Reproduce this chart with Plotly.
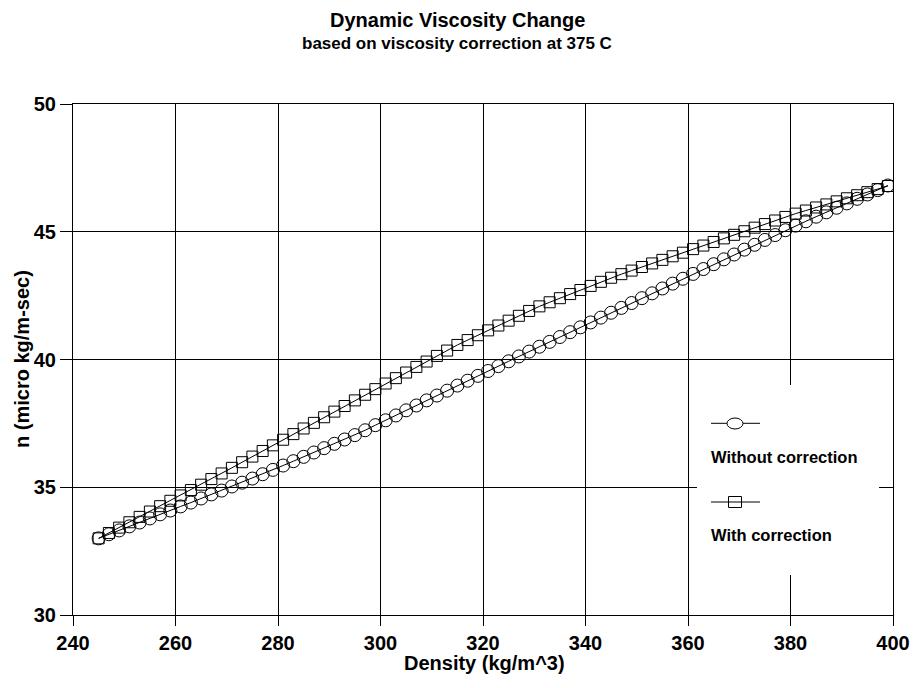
import plotly.graph_objects as go

# ---------------- data ----------------
density = [245, 247, 249, 251, 253, 255, 257, 259, 261, 263, 265, 267, 269, 271, 273, 275,
           277, 279, 281, 283, 285, 287, 289, 291, 293, 295, 297, 299, 301, 303, 305, 307,
           309, 311, 313, 315, 317, 319, 321, 323, 325, 327, 329, 331, 333, 335, 337, 339,
           341, 343, 345, 347, 349, 351, 353, 355, 357, 359, 361, 363, 365, 367, 369, 371,
           373, 375, 377, 379, 381, 383, 385, 387, 389, 391, 393, 395, 397, 399]

visc_without = [33.00, 33.16, 33.31, 33.47, 33.62, 33.78, 33.94, 34.09, 34.25, 34.40, 34.56, 34.72,
                34.87, 35.03, 35.18, 35.34, 35.51, 35.68, 35.85, 36.02, 36.19, 36.36, 36.53, 36.70,
                36.87, 37.04, 37.23, 37.43, 37.62, 37.81, 38.01, 38.20, 38.40, 38.59, 38.78, 38.98,
                39.17, 39.36, 39.55, 39.74, 39.93, 40.12, 40.31, 40.50, 40.69, 40.88, 41.07, 41.26,
                41.45, 41.64, 41.83, 42.02, 42.21, 42.40, 42.59, 42.78, 42.97, 43.16, 43.35, 43.54,
                43.73, 43.92, 44.11, 44.30, 44.49, 44.68, 44.87, 45.06, 45.24, 45.41, 45.59, 45.76,
                45.94, 46.11, 46.29, 46.46, 46.63, 46.81]

visc_with = [33.00, 33.21, 33.42, 33.63, 33.84, 34.05, 34.26, 34.47, 34.68, 34.89, 35.10, 35.32,
             35.54, 35.76, 35.98, 36.20, 36.42, 36.64, 36.86, 37.08, 37.30, 37.52, 37.74, 37.96,
             38.18, 38.40, 38.62, 38.84, 39.06, 39.27, 39.49, 39.71, 39.92, 40.14, 40.35, 40.57,
             40.76, 40.95, 41.14, 41.33, 41.52, 41.71, 41.90, 42.08, 42.24, 42.40, 42.56, 42.72,
             42.88, 43.04, 43.20, 43.34, 43.48, 43.62, 43.76, 43.90, 44.04, 44.18, 44.32, 44.46,
             44.60, 44.74, 44.88, 45.02, 45.16, 45.30, 45.44, 45.58, 45.71, 45.83, 45.95, 46.07,
             46.19, 46.31, 46.43, 46.55, 46.67, 46.79]

x_ticks = [240, 260, 280, 300, 320, 340, 360, 380, 400]
y_ticks = [30, 35, 40, 45, 50]
series_names = ["Without correction", "With correction"]

FONT = "Liberation Sans, Arial, sans-serif"

# ---------------- layout geometry (pixels) ----------------
W, H = 914, 688
ML, MR, MT, MB = 73, 21, 104, 73
PW, PH = W - ML - MR, H - MT - MB


def px(xp):
    return (xp - ML) / PW


def py(yp):
    return (H - MB - yp) / PH


fig = go.Figure()

fig.add_trace(go.Scatter(
    x=density, y=visc_without, name=series_names[0], mode="lines+markers",
    line=dict(color="black", width=1),
    marker=dict(symbol="circle-open", size=13, color="black", line=dict(width=1)),
    showlegend=False,
))
fig.add_trace(go.Scatter(
    x=density, y=visc_with, name=series_names[1], mode="lines+markers",
    line=dict(color="black", width=1),
    marker=dict(symbol="square-open", size=11, color="black", line=dict(width=1)),
    showlegend=False,
))

shapes = []
# legend background (hides grid lines)
shapes.append(dict(type="rect", xref="paper", yref="paper",
                   x0=px(697), x1=px(879), y0=py(575), y1=py(385),
                   fillcolor="white", line=dict(width=0), layer="above"))
# legend sample 1: line + ellipse
shapes.append(dict(type="line", xref="paper", yref="paper",
                   x0=px(711), x1=px(760), y0=py(423.3), y1=py(423.3),
                   line=dict(color="black", width=1), layer="above"))
shapes.append(dict(type="circle", xref="paper", yref="paper",
                   x0=px(727), x1=px(743), y0=py(429), y1=py(418),
                   fillcolor="white", line=dict(color="black", width=1), layer="above"))
# legend sample 2: line + square
shapes.append(dict(type="line", xref="paper", yref="paper",
                   x0=px(711), x1=px(760), y0=py(502), y1=py(502),
                   line=dict(color="black", width=1), layer="above"))
shapes.append(dict(type="rect", xref="paper", yref="paper",
                   x0=px(728.5), x1=px(741.5), y0=py(507.5), y1=py(496.5),
                   fillcolor="rgba(0,0,0,0)", line=dict(color="black", width=1), layer="above"))

annotations = [
    dict(text="<b>Dynamic Viscosity Change</b>", xref="paper", yref="paper",
         x=px(457), y=py(20), xanchor="center", yanchor="middle", showarrow=False,
         font=dict(family=FONT, size=20, color="black")),
    dict(text="<b>based on viscosity correction at 375 C</b>", xref="paper", yref="paper",
         x=px(457), y=py(43), xanchor="center", yanchor="middle", showarrow=False,
         font=dict(family=FONT, size=17, color="black")),
    dict(text="<b>" + series_names[0] + "</b>", xref="paper", yref="paper",
         x=px(709), y=py(457), xanchor="left", yanchor="middle", showarrow=False,
         font=dict(family=FONT, size=16.5, color="black")),
    dict(text="<b>" + series_names[1] + "</b>", xref="paper", yref="paper",
         x=px(709), y=py(535), xanchor="left", yanchor="middle", showarrow=False,
         font=dict(family=FONT, size=16.5, color="black")),
    # axis titles
    dict(text="<b>Density (kg/m^3)</b>", xref="paper", yref="paper",
         x=px(484), y=py(663), xanchor="center", yanchor="middle", showarrow=False,
         font=dict(family=FONT, size=20, color="black")),
    dict(text="<b>n (micro kg/m-sec)</b>", xref="paper", yref="paper",
         x=px(22), y=py(359), xanchor="center", yanchor="middle", showarrow=False,
         textangle=-90, font=dict(family=FONT, size=20, color="black")),
]

fig.update_layout(
    width=W, height=H,
    margin=dict(l=ML, r=MR, t=MT, b=MB, pad=0, autoexpand=False),
    paper_bgcolor="white", plot_bgcolor="white",
    font=dict(family=FONT, color="black"),
    shapes=shapes, annotations=annotations,
    xaxis=dict(
        range=[240, 400], tickmode="array", tickvals=x_ticks,
        ticktext=["<b>%d</b>" % v for v in x_ticks],
        tickfont=dict(family=FONT, size=20, color="black"),
        ticks="outside", ticklen=10, tickcolor="black", tickwidth=1,
        ticklabelstandoff=0,
        showgrid=True, gridcolor="black", gridwidth=1,
        showline=True, linecolor="black", linewidth=1, mirror=True,
        zeroline=False, automargin=False,
    ),
    yaxis=dict(
        range=[30, 50], tickmode="array", tickvals=y_ticks,
        ticktext=["<b>%d</b>" % v for v in y_ticks],
        tickfont=dict(family=FONT, size=20, color="black"),
        ticks="outside", ticklen=12, tickcolor="black", tickwidth=1,
        ticklabelstandoff=0,
        showgrid=True, gridcolor="black", gridwidth=1,
        showline=True, linecolor="black", linewidth=1, mirror=True,
        zeroline=False, automargin=False,
    ),
)

fig.write_html(
    "out.html",
    config={"displayModeBar": False},
    post_script="document.body.style.margin='0';document.body.style.padding='0';",
)
